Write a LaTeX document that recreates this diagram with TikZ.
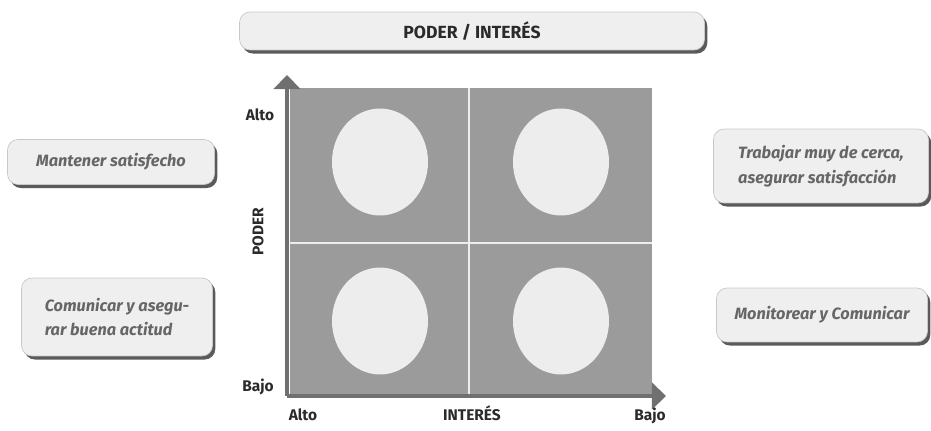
\documentclass[tikz,border=0pt]{standalone}
\usepackage{fontspec}
\setmainfont{Fira Sans}
\usetikzlibrary{arrows.meta,positioning,shapes.geometric,shadows}
\definecolor{boxfill}{HTML}{EFEFEF}
\definecolor{boxline}{HTML}{C8C8C8}
\definecolor{shadowgray}{HTML}{5A5A5A}
\definecolor{matrixgray}{HTML}{9B9B9B}
\definecolor{axisgray}{HTML}{707070}
\definecolor{spotgray}{HTML}{EDEDED}
\definecolor{headtext}{HTML}{2A2A2A}
\definecolor{notetext}{HTML}{666666}

\begin{document}
\begin{tikzpicture}[x = 0.02cm, y = -0.02cm,
  notebox/.style = {draw = boxline, fill = boxfill, rounded corners = 6pt, align = left,
    drop shadow = {shadow xshift = 1.6pt, shadow yshift = -2pt, fill = shadowgray, opacity = 1},
    font = \fontsize{9.3}{14}\selectfont\bfseries\itshape, text = notetext},
  axislabel/.style = {anchor = base, font = \fontsize{8.8}{10}\selectfont\bfseries, text = headtext},
  spot/.style = {ellipse, fill = spotgray, minimum width = 1.92cm, minimum height = 2.14cm, inner sep = 0pt},
  axis/.style = {axisgray, line width = 2.8pt, -{Triangle[width = 15pt, length = 8pt]}}]
\useasboundingbox (0,0) rectangle (931,430);
% cuadro de la matriz
\fill[matrixgray] (290,88) rectangle (652,395);
\draw[spotgray, line width = 0.9pt] (469,88) -- (469,395);
\draw[spotgray, line width = 0.9pt] (290,243) -- (652,243);
\node[spot] (AA) at (380,162) {};
\node[spot] (AB) at (561,162) {};
\node[spot] (BA) at (380,321) {};
\node[spot] (BB) at (561,321) {};
% ejes
\coordinate (O) at (287,396);
\coordinate (Ytip) at (287,75);
\coordinate (Xtip) at (666,396);
\draw[axis] (O) -- (Ytip);
\draw[axis] (O) -- (Xtip);
\node[axislabel] (Yhigh) at (260,120) {Alto};
\node[axislabel] (Ylow) at (258,391) {Bajo};
\node[axislabel, anchor = center, rotate = 90] (Yname) at (258,232) {PODER};
\node[axislabel] (Xhigh) at (303,420) {Alto};
\node[axislabel] (Xname) at (472,420) {INTERÉS};
\node[axislabel] (Xlow) at (650,420) {Bajo};
% cuadros de texto
\node[notebox, minimum width = 9.3cm, minimum height = 0.76cm, align = center,
  font = \fontsize{10}{12}\selectfont\bfseries, text = headtext] (title) at (472,31) {PODER / INTERÉS};
\node[notebox, minimum width = 4.14cm, minimum height = 0.9cm] (keep) at (111,162) {Mantener satisfecho};
\node[notebox, minimum width = 3.82cm, minimum height = 1.56cm] (inform) at (117,317) {Comunicar y asegu-\\rar buena actitud};
\node[notebox, minimum width = 4.3cm, minimum height = 1.48cm] (manage) at (821,166) {Trabajar muy de cerca,\\asegurar satisfacción};
\node[notebox, minimum width = 4.22cm, minimum height = 1.08cm] (monitor) at (822,315) {Monitorear y Comunicar};
\end{tikzpicture}
\end{document}
